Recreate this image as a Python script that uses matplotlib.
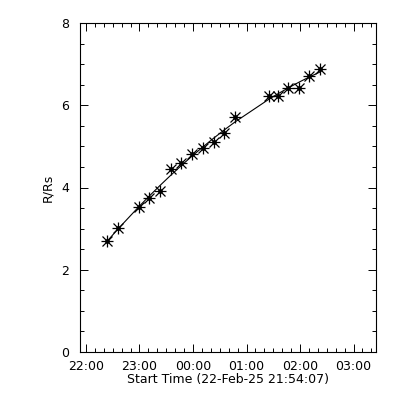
import numpy as np
import matplotlib
matplotlib.use("Agg")
import matplotlib.pyplot as plt
import matplotlib.ticker as ticker

# Tiempo en minutos desde 22:00 (22-Feb-25)
t_min = [24, 36, 60, 71, 83, 95, 107, 119, 131, 143, 155, 167, 205, 215, 227, 239, 250, 262]
# Altura en radios solares
r_rs = [2.71, 3.02, 3.53, 3.74, 3.91, 4.45, 4.59, 4.82, 4.95, 5.11, 5.33, 5.72,
        6.23, 6.23, 6.41, 6.41, 6.71, 6.88]

tick_labels = ["22:00", "23:00", "00:00", "01:00", "02:00", "03:00"]

t_h = np.array(t_min) / 60.0
r = np.array(r_rs)

# Ajuste cuadratico altura-tiempo
coef = np.polyfit(t_h, r, 2)
r_fit = np.polyval(coef, t_h)

fig = plt.figure(figsize=(4, 4), dpi=100)
ax = fig.add_axes([0.2, 0.12, 0.74, 0.8225])

ax.plot(t_h, r_fit, color="black", linewidth=0.8)
ax.plot(t_h, r, linestyle="none", marker="+", markersize=9, mew=0.9, color="black")
ax.plot(t_h, r, linestyle="none", marker="x", markersize=7, mew=0.9, color="black")
ax.plot(t_h, r, linestyle="none", marker="o", markersize=2.5, color="black")

ax.set_xlim(-0.112, 5.42)
ax.set_ylim(0, 8)

ax.set_xticks(np.arange(len(tick_labels)))
ax.set_xticklabels(tick_labels)
ax.xaxis.set_minor_locator(ticker.MultipleLocator(1 / 6))
ax.set_yticks([0, 2, 4, 6, 8])
ax.yaxis.set_minor_locator(ticker.MultipleLocator(0.5))

ax.tick_params(which="both", direction="in", top=True, right=True, width=0.7,
               labelsize=9)
ax.tick_params(axis="x", pad=6)
ax.tick_params(axis="y", pad=8)
ax.tick_params(which="major", length=6)
ax.tick_params(which="minor", length=3)
for s in ax.spines.values():
    s.set_linewidth(0.8)

ax.set_ylabel("R/Rs", fontsize=9, labelpad=5)
ax.set_xlabel("Start Time (22-Feb-25 21:54:07)", fontsize=9, labelpad=0)

fig.savefig("out.png", dpi=100)
